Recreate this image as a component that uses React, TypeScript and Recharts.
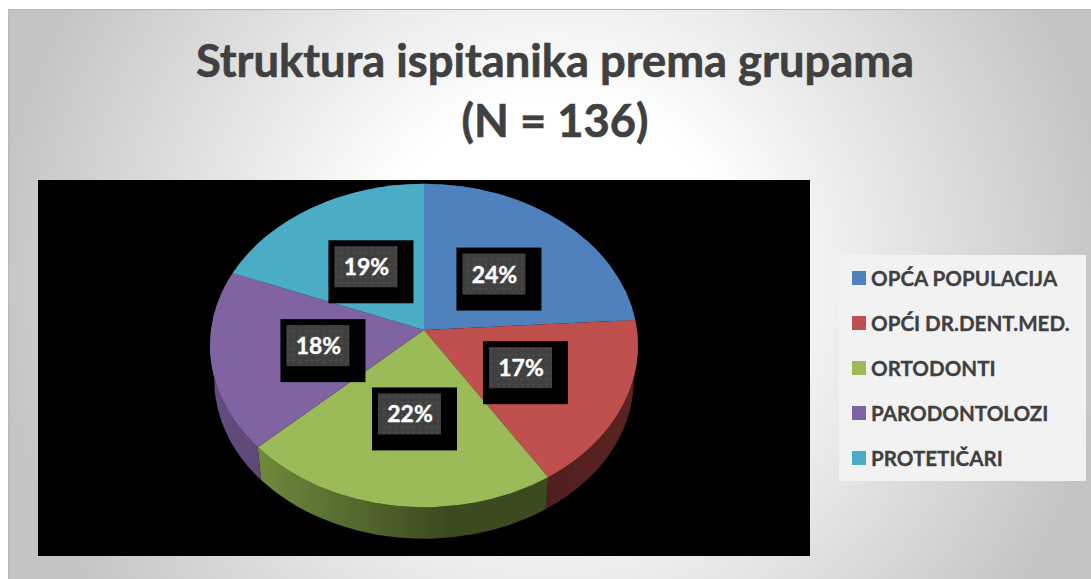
import React from 'react';
import { PieChart, Pie, Legend } from 'recharts';

const categories = ['OPĆA POPULACIJA', 'OPĆI DR.DENT.MED.', 'ORTODONTI', 'PARODONTOLOZI', 'PROTETIČARI'];
const shares = [24, 17, 22, 18, 19];
const topColors = ['#4f81bd', '#c0504d', '#9bbb59', '#8064a2', '#4bacc6'];
const wallColors = ['#2c4a6e', 'url(#redWall)', 'url(#greenWall)', 'url(#purpleWall)', '#2a6170'];
const titleLines = ['Struktura ispitanika prema grupama', '(N = 136)'];

const topData = categories.map((name, i) => ({ name, value: shares[i], fill: topColors[i] }));
const wallData = categories.map((name, i) => ({ name, value: shares[i], fill: wallColors[i] }));

// tilt of the disc
const PERSPECTIVE = 0.096;
const SQUASH = 0.752;
const DEPTH = 35;
const LOWER_SCALE = 0.98;
const FONT = 'Lato, Carlito, sans-serif';

const RAD = Math.PI / 180;

// recharts angle (90 = top, decreasing clockwise) to a point on the tilted disc
const project = (cx: number, cy: number, r: number, angle: number, frac = 1) => {
    const X = Math.cos(angle * RAD) * frac;
    const Y = -Math.sin(angle * RAD) * frac;
    const d = 1 - PERSPECTIVE * Y;
    return { x: cx + (r * X) / d, y: cy + (r * SQUASH * Y) / d };
};

const rimRadii = (r: number) => {
    const s = Math.sqrt(1 - PERSPECTIVE * PERSPECTIVE);
    return { rx: r / s, ry: (r * SQUASH) / (s * s) };
};

const TopSlice = (props: any) => {
    const { cx, cy, outerRadius, startAngle, endAngle, fill } = props;
    const a = project(cx, cy, outerRadius, startAngle);
    const b = project(cx, cy, outerRadius, endAngle);
    const { rx, ry } = rimRadii(outerRadius);
    const large = Math.abs(startAngle - endAngle) > 180 ? 1 : 0;
    return (
        <path
            d={`M${cx},${cy} L${a.x},${a.y} A${rx},${ry} 0 ${large} 1 ${b.x},${b.y} Z`}
            fill={fill}
        />
    );
};

const WallSlice = (props: any) => {
    const { cx, cy, outerRadius, startAngle, endAngle, fill } = props;
    const a = project(cx, cy, outerRadius, startAngle);
    const b = project(cx, cy, outerRadius, endAngle);
    const lower = outerRadius * LOWER_SCALE;
    const c = project(cx, cy + DEPTH, lower, endAngle);
    const e = project(cx, cy + DEPTH, lower, startAngle);
    const top = rimRadii(outerRadius);
    const low = rimRadii(lower);
    const large = Math.abs(startAngle - endAngle) > 180 ? 1 : 0;
    return (
        <path
            d={`M${a.x},${a.y} A${top.rx},${top.ry} 0 ${large} 1 ${b.x},${b.y} L${c.x},${c.y} A${low.rx},${low.ry} 0 ${large} 0 ${e.x},${e.y} Z`}
            fill={fill}
        />
    );
};

const SliceLabel = (props: any) => {
    const { cx, cy, outerRadius, midAngle, value } = props;
    const p = project(cx, cy, outerRadius, midAngle, 0.5);
    return (
        <g>
            <rect x={p.x - 38} y={p.y - 26} width={85} height={63} fill="#000" />
            <rect x={p.x - 32} y={p.y - 20} width={63} height={41} fill="url(#labelDots)" />
            <text
                x={p.x}
                y={p.y + 9}
                textAnchor="middle"
                fill="#fff"
                stroke="#fff"
                strokeWidth={0.4}
                fontFamily={FONT}
                fontWeight={700}
                fontSize={23}
            >
                {value}%
            </text>
        </g>
    );
};

const LegendBox = ({ payload }: any) => (
    <div
        style={{
            width: 247,
            height: 226,
            boxSizing: 'border-box',
            background: '#f2f2f2',
            padding: '0 0 0 13px',
            display: 'flex',
            flexDirection: 'column',
            justifyContent: 'space-around',
        }}
    >
        {(payload || [])
            .filter((item: any) => topColors.includes(item.color))
            .map((item: any) => (
                <div key={item.value} style={{ display: 'flex', alignItems: 'center', height: 24 }}>
                    <span style={{ width: 14, height: 14, background: item.color, marginRight: 5, flex: 'none' }} />
                    <span
                        style={{
                            fontFamily: FONT,
                            fontWeight: 700,
                            fontSize: 20.6,
                            color: '#404040',
                            whiteSpace: 'nowrap',
                            WebkitTextStroke: '0.3px #404040',
                        }}
                    >
                        {item.value}
                    </span>
                </div>
            ))}
    </div>
);

export default function App() {
    return (
        <div
            style={{
                position: 'absolute',
                left: 8,
                top: 9,
                width: 1083,
                height: 570,
                overflow: 'hidden',
                background: 'radial-gradient(circle 560px at 545px 270px, #ffffff 180px, #c4c4c4 100%)',
                borderTop: '1px solid #b8b8b8',
                borderLeft: '1px solid #b8b8b8',
                boxSizing: 'border-box',
            }}
        >
            {titleLines.map((line, i) => (
                <div
                    key={line}
                    style={{
                        position: 'absolute',
                        left: 0,
                        width: 1092,
                        top: 20 + i * 60,
                        textAlign: 'center',
                        fontFamily: FONT,
                        fontWeight: 700,
                        fontSize: 45.3,
                        lineHeight: '60px',
                        color: '#404040',
                        WebkitTextStroke: '0.6px #404040',
                    }}
                >
                    {line}
                </div>
            ))}
            <div style={{ position: 'absolute', left: 29, top: 170, width: 772, height: 376, background: '#000' }} />
            <PieChart width={1082} height={569} style={{ position: 'absolute', left: 0, top: 0 }}>
                <defs>
                    <linearGradient id="greenWall" x1="0" y1="0" x2="1" y2="0">
                        <stop offset="0%" stopColor="#6f8a3d" />
                        <stop offset="30%" stopColor="#566c30" />
                        <stop offset="65%" stopColor="#3c4a20" />
                        <stop offset="100%" stopColor="#3c4a20" />
                    </linearGradient>
                    <linearGradient id="redWall" x1="0" y1="0" x2="1" y2="0">
                        <stop offset="0%" stopColor="#4f1f1d" />
                        <stop offset="100%" stopColor="#5a2422" />
                    </linearGradient>
                    <linearGradient id="purpleWall" x1="0" y1="0" x2="0" y2="1">
                        <stop offset="0%" stopColor="#6e5690" />
                        <stop offset="100%" stopColor="#5c4775" />
                    </linearGradient>
                    <pattern id="labelDots" width="6" height="6" patternUnits="userSpaceOnUse">
                        <rect width="6" height="6" fill="#404040" />
                        <rect x="2" y="2" width="2" height="2" fill="#4c4c4c" />
                    </pattern>
                </defs>
                <Pie
                    data={wallData}
                    dataKey="value"
                    nameKey="name"
                    cx={410}
                    cy={315}
                    outerRadius={213}
                    startAngle={90}
                    endAngle={-270}
                    stroke="none"
                    legendType="none"
                    shape={WallSlice}
                    isAnimationActive={false}
                />
                <Pie
                    data={topData}
                    dataKey="value"
                    nameKey="name"
                    cx={410}
                    cy={315}
                    outerRadius={213}
                    startAngle={90}
                    endAngle={-270}
                    stroke="none"
                    shape={TopSlice}
                    label={SliceLabel}
                    labelLine={false}
                    isAnimationActive={false}
                />
                <Legend
                    content={<LegendBox />}
                    wrapperStyle={{ position: 'absolute', left: 830, top: 245, width: 247, height: 226 }}
                />
            </PieChart>
        </div>
    );
}
